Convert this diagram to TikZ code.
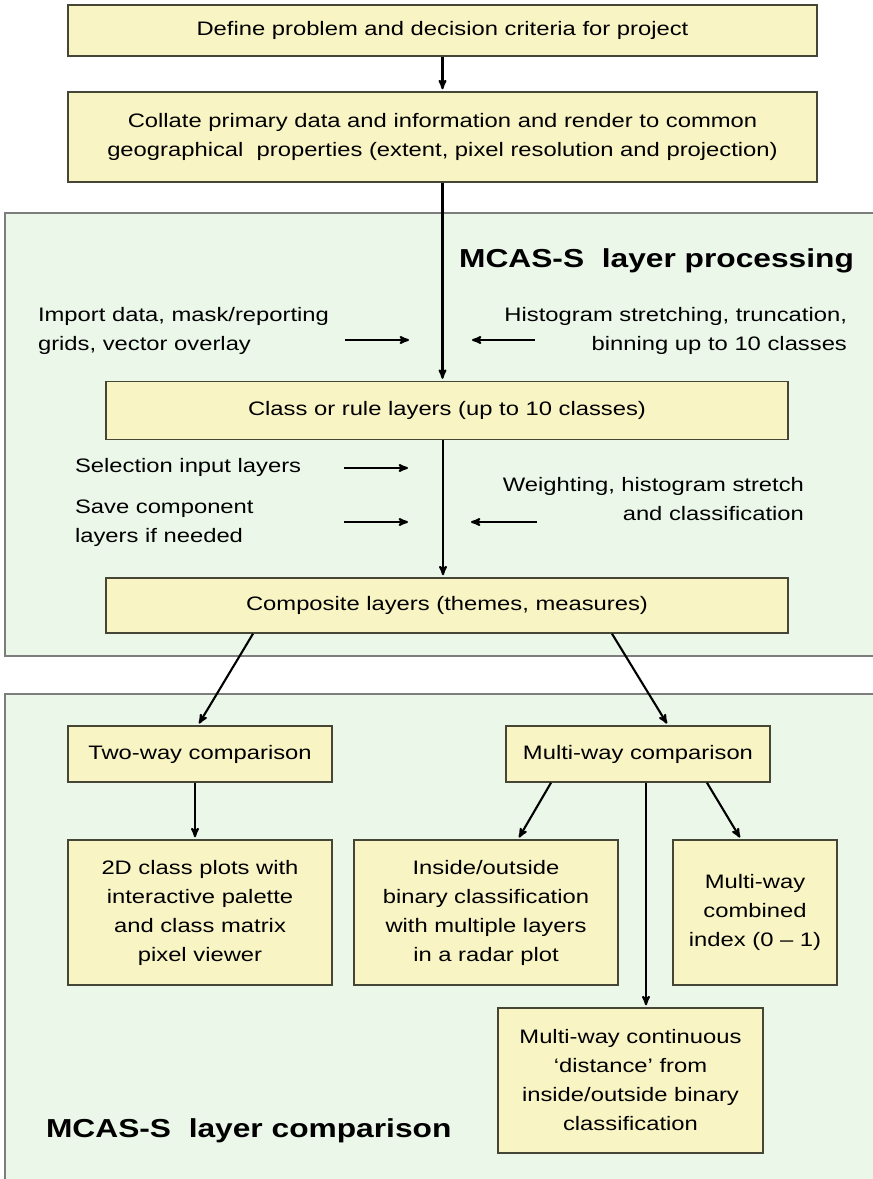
\documentclass[tikz,border=0pt]{standalone}
\usepackage{fontspec}
\setmainfont{Liberation Sans}[FakeStretch=1.22]
\usetikzlibrary{arrows,positioning}

\definecolor{boxfill}{RGB}{248,244,196}
\definecolor{boxline}{RGB}{70,70,55}
\definecolor{panelfill}{RGB}{235,247,233}
\definecolor{panelline}{RGB}{125,125,125}

\begin{document}
\begin{tikzpicture}[->,>=stealth',shorten >=2pt,x=1pt,y=-1pt,line width=2.1pt,
        box/.style={draw=boxline,fill=boxfill,line width=1.5pt,align=center,inner sep=0pt,font=\fontsize{19.5}{29}\selectfont},
        panel/.style={-,draw=panelline,fill=panelfill,line width=1.6pt},
        note/.style={inner sep=0pt,font=\fontsize{19.5}{29}\selectfont},
        heading/.style={inner sep=0pt,font=\fontsize{26}{30}\selectfont\bfseries}]
        \useasboundingbox (0,0) rectangle (873,1179);
        \draw[panel] (5,213) rectangle (880,656);
        \draw[panel] (5,694) rectangle (880,1190);

        \node[box,minimum width=749,minimum height=51] (define)   at (442.5,30.5) {Define problem and decision criteria for project};
        \node[box,minimum width=749,minimum height=90] (collate)  at (442.5,137)  {Collate primary data and information and render to common\\geographical~ properties (extent, pixel resolution and projection)};
        \node[heading,anchor=base east] (proctitle)                at (855,267)    {MCAS-S~ layer processing};
        \node[note,anchor=west,align=left] (import)                at (37,331)     {Import data, mask/reporting\\grids, vector overlay};
        \node[note,anchor=east,align=right] (histo)                at (848,331)    {Histogram stretching, truncation,\\binning up to 10 classes};
        \node[box,minimum width=682,minimum height=58] (classes)  at (447,410.5)  {Class or rule layers (up to 10 classes)};
        \node[note,anchor=west] (select)                           at (74,467)     {Selection input layers};
        \node[note,anchor=west,align=left] (save)                  at (74,523.5)   {Save component\\layers if needed};
        \node[note,anchor=east,align=right] (weight)               at (805,499)    {Weighting, histogram stretch\\and classification};
        \node[box,minimum width=682,minimum height=55] (composite) at (447,605.5) {Composite layers (themes, measures)};

        \node[box,minimum width=264,minimum height=56] (twoway)   at (200,754)    {Two-way comparison};
        \node[box,minimum width=264,minimum height=56] (multiway) at (638,754)    {Multi-way comparison};
        \node[box,minimum width=264,minimum height=145] (plots)   at (200,912.5)  {2D class plots with\\interactive palette\\and class matrix\\pixel viewer};
        \node[box,minimum width=264,minimum height=145] (inside)  at (486,912.5)  {Inside/outside\\binary classification\\with multiple layers\\in a radar plot};
        \node[box,minimum width=164,minimum height=145] (combined) at (755,912.5) {Multi-way\\combined\\index (0 – 1)};
        \node[box,minimum width=265,minimum height=145] (continuous) at (630.5,1080.5) {Multi-way continuous\\‘distance’ from\\inside/outside binary\\classification};
        \node[heading,anchor=base west] (comptitle)                at (45,1137)    {MCAS-S~ layer comparison};

        \coordinate (import-a) at (345,340);  \coordinate (import-b) at (411,340);
        \coordinate (histo-a)  at (535,340);  \coordinate (histo-b)  at (470,340);
        \coordinate (select-a) at (344,468);  \coordinate (select-b) at (410,468);
        \coordinate (save-a)   at (344,522);  \coordinate (save-b)   at (410,522);
        \coordinate (weight-a) at (537,522);  \coordinate (weight-b) at (469,522);

        \path
        (define) edge (collate)
        (collate) edge (collate.south |- classes.north)
        ([xshift=-4]classes.south) edge ([xshift=-4]composite.north)
        ([xshift=-194]composite.south) edge ([xshift=-2]twoway.north)
        ([xshift=165]composite.south) edge ([xshift=30]multiway.north)
        ([xshift=-5]twoway.south) edge ([xshift=-5]plots.north)
        ([xshift=-87]multiway.south) edge ([xshift=32]inside.north)
        ([xshift=69]multiway.south) edge ([xshift=-14]combined.north)
        ([xshift=8]multiway.south) edge ([xshift=8]multiway.south |- continuous.north)
        (import-a) edge (import-b)
        (histo-a) edge (histo-b)
        (select-a) edge (select-b)
        (save-a) edge (save-b)
        (weight-a) edge (weight-b);
\end{tikzpicture}
\end{document}
